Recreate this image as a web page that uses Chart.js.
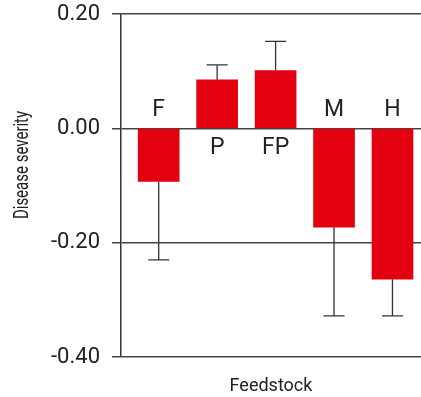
<!DOCTYPE html>
<html><head><meta charset="utf-8">
<script src="https://cdn.jsdelivr.net/npm/chart.js@4.4.1/dist/chart.umd.min.js"></script>
<style>html,body{margin:0;padding:0;background:#fff}#w{width:421px;height:397px}</style>
</head><body><div id="w"><canvas id="c"></canvas></div>
<script>
const categories = ['F', 'P', 'FP', 'M', 'H'];
const values = [-0.093, 0.085, 0.101, -0.173, -0.264];
const errors = [0.137, 0.026, 0.051, 0.155, 0.064];
const yTicks = [-0.40, -0.20, 0.00, 0.20];
const yTitle = 'Disease severity';
const xTitle = 'Feedstock';

const FONT = "'Liberation Sans Narrow', 'Roboto', 'Liberation Sans', sans-serif";

const extras = {
  id: 'extras',
  afterDatasetsDraw(chart) {
    const ctx = chart.ctx, x = chart.scales.x, y = chart.scales.y;
    ctx.save();
    ctx.strokeStyle = '#333';
    ctx.lineWidth = 1.3;
    values.forEach((v, i) => {
      const px = x.getPixelForValue(i);
      const sgn = v >= 0 ? 1 : -1;
      const y1 = y.getPixelForValue(v), y2 = y.getPixelForValue(v + sgn * errors[i]);
      ctx.beginPath();
      ctx.moveTo(px, y1); ctx.lineTo(px, y2);
      ctx.moveTo(px - 10.5, y2); ctx.lineTo(px + 10.5, y2);
      ctx.stroke();
    });
    ctx.fillStyle = '#222';
    ctx.font = '23px ' + FONT;
    ctx.textAlign = 'center';
    const y0 = y.getPixelForValue(0);
    categories.forEach((c, i) => {
      const px = x.getPixelForValue(i);
      if (values[i] < 0) { ctx.textBaseline = 'alphabetic'; ctx.fillText(c, px, y0 - 12); }
      else { ctx.textBaseline = 'top'; ctx.fillText(c, px, y0 + 8); }
    });
    // y-axis title (condensed look)
    ctx.translate(23, 165);
    ctx.rotate(-Math.PI / 2);
    ctx.scale(0.75, 1);
    ctx.font = '20px ' + FONT;
    ctx.textBaseline = 'middle';
    ctx.fillText(yTitle, 0, 0);
    ctx.restore();
  }
};

new Chart(document.getElementById('c'), {
  type: 'bar',
  data: {
    datasets: [{
      data: values.map((v, i) => ({x: i, y: v})),
      backgroundColor: '#e3000f',
      borderWidth: 0,
      barThickness: 41
    }]
  },
  options: {
    responsive: true, maintainAspectRatio: false, animation: false,
    layout: {padding: {top: 14, right: 0, left: 0, bottom: 0}},
    plugins: {legend: {display: false}, tooltip: {enabled: false}},
    scales: {
      x: {
        type: 'linear', min: -0.645, max: 4.488, offset: false,
        ticks: {display: false},
        grid: {display: false},
        border: {display: false},
        title: {display: true, text: xTitle, color: '#222', font: {family: FONT, size: 18}, padding: {top: 0, bottom: 0}},
        afterFit(s) { s.height = 40; s.paddingLeft = 0; s.paddingRight = 0; }
      },
      y: {
        min: -0.4, max: 0.2,
        afterBuildTicks(s) { s.ticks = yTicks.map(v => ({value: v})); },
        ticks: {color: '#222', font: {family: FONT, size: 22}, padding: 12, callback: v => v.toFixed(2)},
        grid: {color: '#444', lineWidth: 1.5, tickLength: 9},
        border: {display: true, color: '#333', width: 1.5},
        title: {display: false},
        afterFit(s) { s.width = 121; s.paddingTop = 0; s.paddingBottom = 0; }
      }
    }
  },
  plugins: [extras]
});
</script></body></html>
